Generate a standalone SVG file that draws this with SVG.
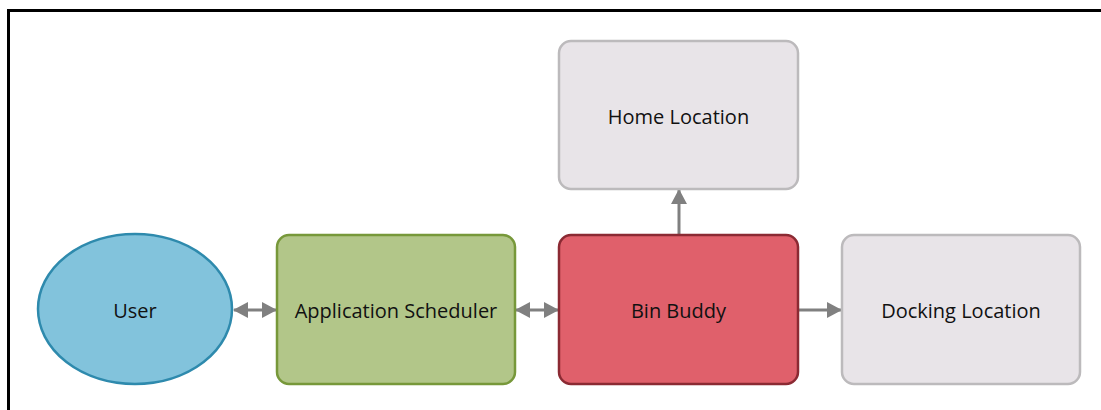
<svg xmlns="http://www.w3.org/2000/svg" width="1101" height="410" viewBox="0 0 1101 410">
  <style>
    .lbl { font-family: "Open Sans", "Noto Sans", sans-serif; font-size: 20px; font-weight: 500; fill: #111; text-anchor: middle; dominant-baseline: central; }
    .box { stroke-width: 2.5; }
    .grey { fill: #e8e4e8; stroke: #bcbabc; }
    .conn { stroke: #808080; stroke-width: 3; fill: none; }
  </style>
  <defs>
    <marker id="head" viewBox="0 0 15 16" refX="14" refY="8" markerWidth="15" markerHeight="16" markerUnits="userSpaceOnUse" orient="auto-start-reverse">
      <path d="M0,0 L15,8 L0,16 z" fill="#808080"/>
    </marker>
  </defs>
  <rect width="1101" height="410" fill="#ffffff"/>
  <!-- frame -->
  <path d="M8.5,410 V10.5 H1101" fill="none" stroke="#000" stroke-width="3"/>

  <g id="connectors">
    <line class="conn" x1="234" y1="310" x2="276" y2="310" marker-start="url(#head)" marker-end="url(#head)"/>
    <line class="conn" x1="516" y1="310" x2="558" y2="310" marker-start="url(#head)" marker-end="url(#head)"/>
    <line class="conn" x1="798" y1="310" x2="841" y2="310" marker-end="url(#head)"/>
    <line class="conn" x1="679" y1="235" x2="679" y2="190" marker-end="url(#head)"/>
  </g>

  <g id="user">
    <ellipse cx="135" cy="309" rx="97" ry="75" fill="#82c3dc" stroke="#2e8aad" class="box"/>
    <text class="lbl" x="135" y="310">User</text>
  </g>
  <g id="scheduler">
    <rect x="277" y="235" width="238" height="149" rx="12" fill="#b2c689" stroke="#77983a" class="box"/>
    <text class="lbl" x="396" y="310">Application Scheduler</text>
  </g>
  <g id="binbuddy">
    <rect x="559" y="235" width="239" height="149" rx="12" fill="#e0606b" stroke="#8b2a33" class="box"/>
    <text class="lbl" x="678.5" y="310">Bin Buddy</text>
  </g>
  <g id="home">
    <rect x="559" y="41" width="239" height="148" rx="12" class="box grey"/>
    <text class="lbl" x="678.5" y="116">Home Location</text>
  </g>
  <g id="docking">
    <rect x="842" y="235" width="238" height="149" rx="12" class="box grey"/>
    <text class="lbl" x="961" y="310">Docking Location</text>
  </g>
</svg>
